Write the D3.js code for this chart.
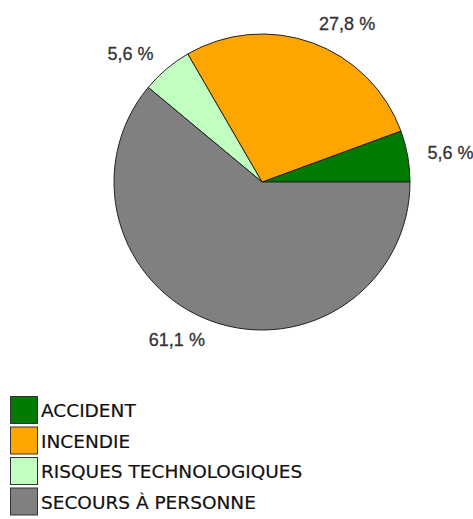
<!DOCTYPE html>
<html>
<head>
<meta charset="utf-8">
<script src="https://cdn.jsdelivr.net/npm/d3@7"></script>
<style>
  body { margin: 0; background: #fff; }
  .label { font-family: "Liberation Sans", Arial, sans-serif; font-size: 18px; fill: #333; stroke: #333; stroke-width: 0.3px; }
  .legend text { font-family: "DejaVu Sans", sans-serif; font-size: 18.5px; fill: #111; stroke: #111; stroke-width: 0.2px; }
</style>
</head>
<body>
<div id="chart"></div>
<script>
// Chart data
const CATEGORIES = ['ACCIDENT', 'INCENDIE', 'RISQUES TECHNOLOGIQUES', 'SECOURS À PERSONNE'];
const VALUES = [5.6, 27.8, 5.6, 61.1];
const LABELS = ['5,6 %', '27,8 %', '5,6 %', '61,1 %'];
const COLORS = ['#007a00', '#ffa500', '#c0ffc0', '#808080'];

// Layout constants
const WIDTH = 473, HEIGHT = 519;
const CENTER = {x: 262, y: 182};
const RADIUS = 148;
const LABEL_RADIUS = 168;
const LEGEND = {x: 10, y: 396, size: 27, step: 30.5};

const svg = d3.select('#chart').append('svg')
  .attr('width', WIDTH)
  .attr('height', HEIGHT);

// Counter-clockwise from 3 o'clock
const pie = d3.pie()
  .sort(null)
  .value(d => d)
  .startAngle(Math.PI / 2)
  .endAngle(Math.PI / 2 - 2 * Math.PI);

const arcs = pie(VALUES);
const arc = d3.arc().innerRadius(0).outerRadius(RADIUS);
const labelArc = d3.arc().innerRadius(LABEL_RADIUS).outerRadius(LABEL_RADIUS);

const g = svg.append('g')
  .attr('transform', `translate(${CENTER.x}, ${CENTER.y})`);

g.selectAll('path')
  .data(arcs)
  .enter()
  .append('path')
  .attr('d', arc)
  .attr('fill', (d, i) => COLORS[i])
  .attr('stroke', '#222')
  .attr('stroke-width', 1);

// Slice labels
g.selectAll('.label')
  .data(arcs)
  .enter()
  .append('text')
  .attr('class', 'label')
  .attr('transform', d => `translate(${labelArc.centroid(d)})`)
  .attr('text-anchor', d => Math.sin((d.startAngle + d.endAngle) / 2) > 0 ? 'start' : 'end')
  .attr('dominant-baseline', 'central')
  .text((d, i) => LABELS[i]);

// Legend
const legend = svg.append('g')
  .attr('class', 'legend')
  .attr('transform', `translate(${LEGEND.x}, ${LEGEND.y})`);

const rows = legend.selectAll('g')
  .data(CATEGORIES)
  .enter()
  .append('g')
  .attr('transform', (d, i) => `translate(0, ${i * LEGEND.step})`);

rows.append('rect')
  .attr('x', 0.5)
  .attr('y', 0.5)
  .attr('width', LEGEND.size)
  .attr('height', LEGEND.size)
  .attr('fill', (d, i) => COLORS[i])
  .attr('stroke', '#333');

rows.append('text')
  .attr('x', LEGEND.size + 4)
  .attr('y', LEGEND.size / 2 + 1)
  .attr('dominant-baseline', 'central')
  .text(d => d);
</script>
</body>
</html>
